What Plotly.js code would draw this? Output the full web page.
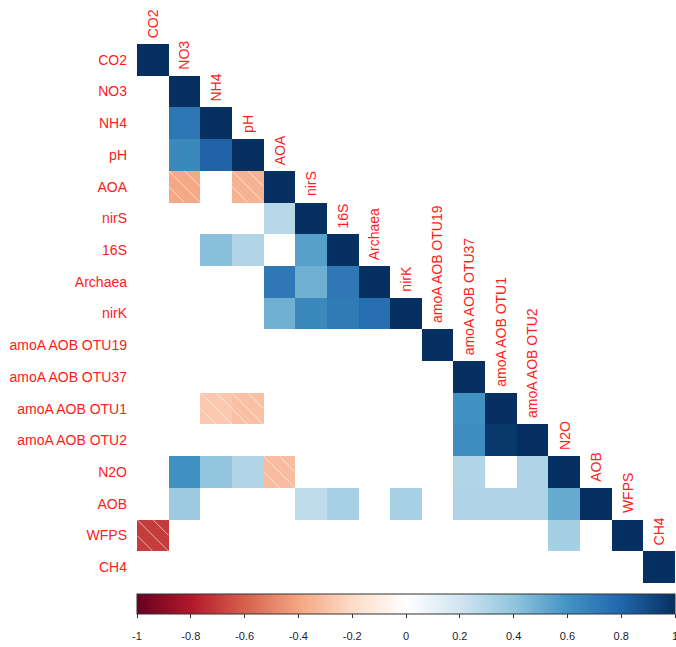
<!DOCTYPE html>
<html>
<head>
<meta charset="utf-8">
<script src="https://cdn.plot.ly/plotly-3.0.1.min.js"></script>
<style>html,body{margin:0;padding:0;background:#fff;}#chart{width:676px;height:647px;}</style>
</head>
<body>
<div id="chart"></div>
<script>
const labels = ["CO2","NO3","NH4","pH","AOA","nirS","16S","Archaea","nirK","amoA AOB OTU19","amoA AOB OTU37","amoA AOB OTU1","amoA AOB OTU2","N2O","AOB","WFPS","CH4"];

// lower-triangle correlation rows (null = blank / not significant)
const rCO2     = [1];
const rNO3     = [null, 1];
const rNH4     = [null, 0.73, 1];
const rpH      = [null, 0.65, 0.81, 1];
const rAOA     = [null, -0.39, null, -0.35, 1];
const rnirS    = [null, null, null, null, 0.29, 1];
const r16S     = [null, null, 0.42, 0.30, null, 0.55, 1];
const rArchaea = [null, null, null, null, 0.72, 0.49, 0.72, 1];
const rnirK    = [null, null, null, null, 0.49, 0.65, 0.71, 0.76, 1];
const rOTU19   = [null, null, null, null, null, null, null, null, null, 1];
const rOTU37   = [null, null, null, null, null, null, null, null, null, null, 1];
const rOTU1    = [null, null, -0.27, -0.30, null, null, null, null, null, null, 0.61, 1];
const rOTU2    = [null, null, null, null, null, null, null, null, null, null, 0.63, 0.97, 1];
const rN2O     = [null, 0.61, 0.40, 0.30, -0.31, null, null, null, null, null, 0.30, null, 0.31, 1];
const rAOB     = [null, 0.36, null, null, null, 0.26, 0.33, null, 0.33, null, 0.31, 0.31, 0.31, 0.51, 1];
const rWFPS    = [-0.70, null, null, null, null, null, null, null, null, null, null, null, null, 0.34, null, 1];
const rCH4     = [null, null, null, null, null, null, null, null, null, null, null, null, null, null, null, null, 1];

const cbTicks = [-1, -0.8, -0.6, -0.4, -0.2, 0, 0.2, 0.4, 0.6, 0.8, 1];
const cbTickText = ["-1", "-0.8", "-0.6", "-0.4", "-0.2", "0", "0.2", "0.4", "0.6", "0.8", "1"];

const rows = [rCO2, rNO3, rNH4, rpH, rAOA, rnirS, r16S, rArchaea, rnirK, rOTU19, rOTU37, rOTU1, rOTU2, rN2O, rAOB, rWFPS, rCH4];
const n = labels.length;
const idx = labels.map((_, i) => i);
const z = rows.map(r => { const a = r.slice(); while (a.length < n) a.push(null); return a; });

const rdbu = ["#67001F","#B2182B","#D6604D","#F4A582","#FDDBC7","#FFFFFF","#D1E5F0","#92C5DE","#4393C3","#2166AC","#053061"];
const colorscale = rdbu.map((c, i) => [i / (rdbu.length - 1), c]);

const FONT = 'Liberation Sans, Arial, sans-serif';
const H = 647, MT = 44, MB = 8;
const plotH = H - MT - MB;
// pixel rows of the layout (from the top of the page)
const gridBottom = 583, barTop = 594, barBottom = 614;
const frac = px => (H - MB - px) / plotH;

const heat = {
  type: 'heatmap', x: idx, y: idx, z: z,
  zmin: -1, zmax: 1, colorscale: colorscale,
  hoverongaps: false, hoverinfo: 'skip',
  colorbar: {
    orientation: 'h', x: 0.5, xanchor: 'center', y: frac(barTop), yanchor: 'top',
    len: 1, lenmode: 'fraction', thickness: 20, thicknessmode: 'pixels',
    xpad: 0, ypad: 0, outlinewidth: 1, outlinecolor: '#333',
    tickmode: 'array', tickvals: cbTicks, showticklabels: false,
    ticks: 'outside', ticklen: 4, tickcolor: '#333', tickwidth: 1
  }
};

// invisible trace to carry the colour-bar label axis
const cbAxisTrace = {type: 'scatter', mode: 'markers', x: [], y: [], xaxis: 'x2', yaxis: 'y', hoverinfo: 'skip', showlegend: false};

// hatching for negative cells, derived from the matrix
const shapes = [];
z.forEach((row, i) => row.forEach((v, j) => {
  if (v !== null && v < 0) {
    const segs = [
      [j - 0.5, i - 0.5, j + 0.5, i + 0.5],
      [j, i - 0.5, j + 0.5, i],
      [j - 0.5, i, j, i + 0.5]
    ];
    segs.forEach(s => shapes.push({
      type: 'line', xref: 'x', yref: 'y', x0: s[0], y0: s[1], x1: s[2], y1: s[3],
      line: {color: 'rgba(255,255,255,0.6)', width: 1}
    }));
  }
}));

const annotations = labels.map((lab, j) => ({
  x: j, y: j - 0.5, xref: 'x', yref: 'y', text: lab, showarrow: false,
  textangle: -90, xanchor: 'center', yanchor: 'bottom', yshift: 4,
  font: {family: FONT, size: 14, color: '#ff2020'}
}));

const layout = {
  width: 676, height: H,
  margin: {l: 137, r: 1, t: MT, b: MB, autoexpand: false},
  paper_bgcolor: '#fff', plot_bgcolor: 'rgba(0,0,0,0)',
  xaxis: {range: [-0.5, n - 0.5], showgrid: false, zeroline: false, showticklabels: false, ticks: '', showline: false},
  xaxis2: {overlaying: 'x', anchor: 'free', position: frac(barBottom), side: 'bottom',
           range: [-1, 1], showgrid: false, zeroline: false, showline: false, ticks: '',
           tickmode: 'array', tickvals: cbTicks, ticktext: cbTickText, ticklabelstandoff: 14,
           ticklabeloverflow: 'allow',
           tickfont: {family: FONT, size: 11, color: '#1a1a2e'}},
  yaxis: {domain: [frac(gridBottom), 1], range: [n - 0.5, -0.5], showgrid: false, zeroline: false, ticks: '', showline: false,
          tickmode: 'array', tickvals: idx, ticktext: labels, ticklabelstandoff: 9,
          tickfont: {family: FONT, size: 14, color: '#ff2020'}},
  shapes: shapes, annotations: annotations, showlegend: false
};

Plotly.newPlot('chart', [heat, cbAxisTrace], layout, {displayModeBar: false, staticPlot: true});
</script>
</body>
</html>
